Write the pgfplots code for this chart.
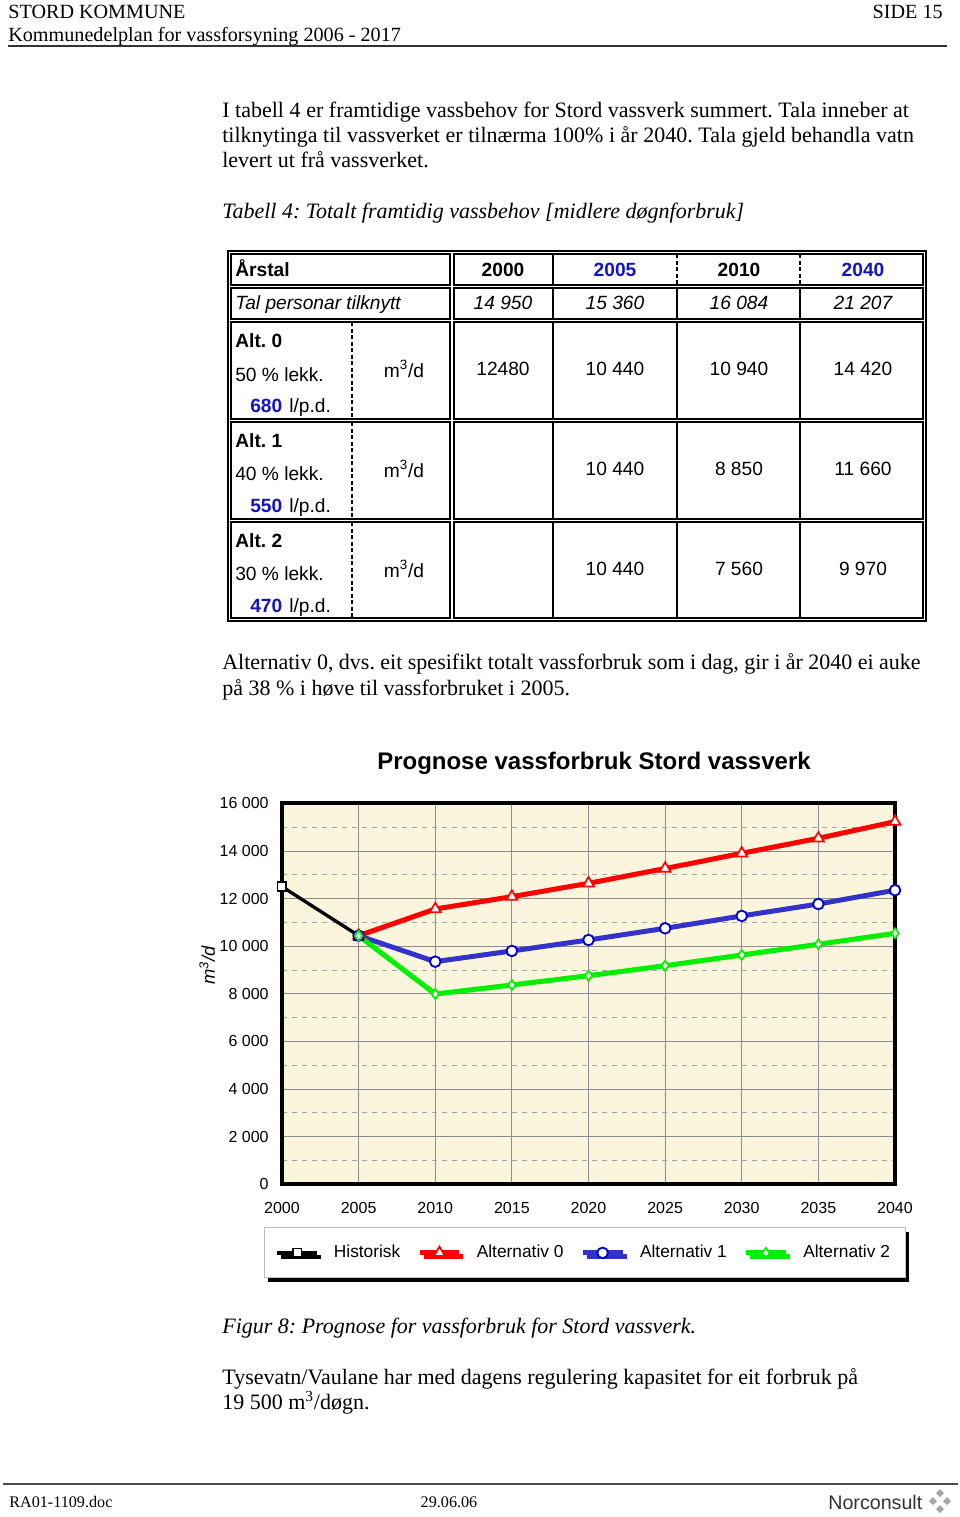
\documentclass[border=0pt]{standalone}
\usepackage{pgfplots}
\pgfplotsset{compat=1.18}
\usepackage{fontspec}
\setmainfont{Liberation Serif}
\setsansfont{Liberation Sans}
\usetikzlibrary{shadows}
\definecolor{cream}{RGB}{252,245,221}
\definecolor{tblue}{RGB}{20,20,190}
\definecolor{altblue}{RGB}{51,51,204}
\definecolor{markblue}{RGB}{0,0,200}
\definecolor{altgreen}{RGB}{0,240,0}
\definecolor{altred}{RGB}{255,0,0}
\newcommand{\bodyfont}{\fontsize{13.2}{15}\selectfont}
\newcommand{\tabfont}{\sffamily\fontsize{11.5}{13}\selectfont}
\frenchspacing
\begin{document}
\begin{tikzpicture}
\begin{scope}[x=0.6pt,y=-0.6pt]
\useasboundingbox[fill=white] (0,0) rectangle (960,1517);
% ---------- header ----------
\begin{scope}[every node/.style={inner sep=0,font=\fontsize{12.1}{14}\selectfont}]
\node[anchor=base west] at (8,18) {STORD KOMMUNE};
\node[anchor=base east] at (943,18) {SIDE 15};
\node[anchor=base west] at (8,41) {Kommunedelplan for vassforsyning 2006 - 2017};
\end{scope}
\draw[line width=1.2pt, black!80] (8,46) -- (947,46);
% ---------- body text ----------
\begin{scope}[every node/.style={inner sep=0,anchor=base west,font=\bodyfont}]
\node at (222,117) {\makebox[412pt][s]{I tabell 4 er framtidige vassbehov for Stord vassverk summert. Tala inneber at}};
\node at (222,142) {\makebox[415pt][s]{tilknytinga til vassverket er tilnærma 100\% i år 2040. Tala gjeld behandla vatn}};
\node at (222,167) {levert ut frå vassverket.};
\node at (222,218) {\itshape Tabell 4: Totalt framtidig vassbehov [midlere døgnforbruk]};
\node at (222,669) {\makebox[419pt][s]{Alternativ 0, dvs. eit spesifikt totalt vassforbruk som i dag, gir i år 2040 ei auke}};
\node at (222,695) {på 38 \% i høve til vassforbruket i 2005.};
\node at (222,1333) {\itshape Figur 8: Prognose for vassforbruk for Stord vassverk.};
\node at (222,1384) {Tysevatn/Vaulane har med dagens regulering kapasitet for eit forbruk på};
\node at (222,1409) {19 500 m\textsuperscript{3}/døgn.};
\end{scope}
% ---------- table ----------
\begin{scope}[line width=0.9pt]
\draw[line width=1.4pt] (228,251) rectangle (926,621);
\foreach \a/\b in {254/285,288/319,322/419,422/519,522/618}{
  \draw (231,\a) rectangle (450,\b);
  \draw (454,\a) rectangle (923,\b);
}
\draw (553,254) -- (553,285);
\draw[dash pattern=on 2.4pt off 1.5pt] (677,254) -- (677,285);
\draw[dash pattern=on 2.4pt off 1.5pt] (800,254) -- (800,285);
\foreach \a/\b in {288/319,322/419,422/519,522/618}{
  \draw (553,\a) -- (553,\b);
  \draw (677,\a) -- (677,\b);
  \draw (800,\a) -- (800,\b);
}
\foreach \a/\b in {322/419,422/519,522/618}{
  \draw[dash pattern=on 2.4pt off 1.5pt] (352,\a) -- (352,\b);
}
\end{scope}
\begin{scope}[every node/.style={inner sep=0,font=\tabfont}]
% row 1
\node[anchor=base west] at (235,276) {\bfseries Årstal};
\node[anchor=base] at (503,276) {\bfseries 2000};
\node[anchor=base] at (615,276) {\bfseries\color{tblue}2005};
\node[anchor=base] at (739,276) {\bfseries 2010};
\node[anchor=base] at (863,276) {\bfseries\color{tblue}2040};
% row 2
\node[anchor=base west] at (235,309) {\itshape Tal personar tilknytt};
\node[anchor=base] at (503,309) {\itshape 14 950};
\node[anchor=base] at (615,309) {\itshape 15 360};
\node[anchor=base] at (739,309) {\itshape 16 084};
\node[anchor=base] at (863,309) {\itshape 21 207};
% row 3
\node[anchor=base west] at (235,347) {\bfseries Alt. 0};
\node[anchor=base west] at (235,381) {50 \% lekk.};
\node[anchor=base west] at (250,412) {\bfseries\color{tblue}680};
\node[anchor=base west] at (289,412) {l/p.d.};
\node[anchor=base] at (404,377) {m\textsuperscript{3}/d};
\node[anchor=base] at (503,375) {12480};
\node[anchor=base] at (615,375) {10 440};
\node[anchor=base] at (739,375) {10 940};
\node[anchor=base] at (863,375) {14 420};
% row 4
\node[anchor=base west] at (235,447) {\bfseries Alt. 1};
\node[anchor=base west] at (235,480) {40 \% lekk.};
\node[anchor=base west] at (250,512) {\bfseries\color{tblue}550};
\node[anchor=base west] at (289,512) {l/p.d.};
\node[anchor=base] at (404,477) {m\textsuperscript{3}/d};
\node[anchor=base] at (615,475) {10 440};
\node[anchor=base] at (739,475) {8 850};
\node[anchor=base] at (863,475) {11 660};
% row 5
\node[anchor=base west] at (235,547) {\bfseries Alt. 2};
\node[anchor=base west] at (235,580) {30 \% lekk.};
\node[anchor=base west] at (250,612) {\bfseries\color{tblue}470};
\node[anchor=base west] at (289,612) {l/p.d.};
\node[anchor=base] at (404,577) {m\textsuperscript{3}/d};
\node[anchor=base] at (615,575) {10 440};
\node[anchor=base] at (739,575) {7 560};
\node[anchor=base] at (863,575) {9 970};
\end{scope}
% ---------- chart title ----------
\node[anchor=base,inner sep=0,font=\sffamily\bfseries\fontsize{14.4}{16}\selectfont] at (594,769) {Prognose vassforbruk Stord vassverk};
% ---------- footer ----------
\draw[line width=1.2pt, black!70] (3,1484) -- (958,1484);
\begin{scope}[every node/.style={inner sep=0,font=\fontsize{9.7}{11}\selectfont}]
\node[anchor=base west] at (9,1507) {RA01-1109.doc};
\node[anchor=base] at (449,1507) {29.06.06};
\end{scope}
\node[anchor=base west,inner sep=0,text=black!80,font=\sffamily\fontsize{11.8}{13}\selectfont] at (828,1509) {Norconsult};
\foreach \cx/\cy in {940/1493,933/1501,947/1501,940/1509}{
  \fill[black!35] (\cx,\cy-4) -- (\cx+4,\cy) -- (\cx,\cy+4) -- (\cx-4,\cy) -- cycle;
}
\end{scope}
% ---------- chart ----------
\begin{axis}[
  at={(169.2pt,-710.58pt)}, anchor=south west,
  scale only axis, width=367.8pt, height=228.6pt,
  xmin=2000, xmax=2040, ymin=0, ymax=16000,
  scaled y ticks=false, scaled x ticks=false,
  xtick={2000,2005,2010,2015,2020,2025,2030,2035,2040},
  xticklabels={2000,2005,2010,2015,2020,2025,2030,2035,2040},
  ytick={0,2000,4000,6000,8000,10000,12000,14000,16000},
  yticklabels={0,2 000,4 000,6 000,8 000,10 000,12 000,14 000,16 000},
  minor ytick={1000,3000,5000,7000,9000,11000,13000,15000},
  xmajorgrids, ymajorgrids, yminorgrids,
  major grid style={draw=black!45, line width=0.45pt},
  minor grid style={draw=black!35, dash pattern=on 3pt off 3pt, line width=0.45pt},
  axis line style={line width=2.3pt},
  major tick length=0pt, minor tick length=0pt,
  axis background/.style={fill=cream},
  ticklabel style={font=\sffamily\fontsize{9.6}{11}\selectfont},
  yticklabel style={xshift=-4.5pt},
  xticklabel style={yshift=-7pt},
  ylabel={m\textsuperscript{3}/d},
  ylabel style={font=\sffamily\itshape\fontsize{11}{13}\selectfont, at={(axis description cs:-0.122,0.575)}, anchor=center},
  legend columns=4,
  legend style={at={(axis description cs:0.4935,-0.18)}, anchor=center,
    draw=black!25, fill=white, line width=0.5pt,
    font=\sffamily\fontsize{10.4}{12}\selectfont,
    inner xsep=7pt, inner ysep=8.5pt,
    drop shadow={shadow xshift=2.4pt, shadow yshift=-2.4pt, fill=black, opacity=1},
    /tikz/every even column/.append style={column sep=8pt},
    /tikz/every odd column/.append style={column sep=7pt}},
  legend image code/.code={\draw[mark repeat=2,mark phase=2,#1] plot coordinates {(0cm,0cm) (0.42cm,0cm) (0.84cm,0cm)};},
  clip=false,
]
\addplot[black, line width=2pt, mark=square*, mark size=2.6pt, mark options={fill=white, draw=black, line width=1pt}]
  coordinates {(2000,12500) (2005,10440)};
\addlegendentry{Historisk}
\addplot[altred, line width=3pt, mark=triangle*, mark size=3.8pt, mark options={fill=white, draw=altred, line width=1pt}]
  coordinates {(2005,10440) (2010,11560) (2015,12080) (2020,12640) (2025,13260) (2030,13900) (2035,14530) (2040,15230)};
\addlegendentry{Alternativ 0}
\addplot[altblue, line width=3pt, mark=*, mark size=3.2pt, mark options={fill=white, draw=markblue, line width=1.1pt}]
  coordinates {(2005,10440) (2010,9350) (2015,9800) (2020,10260) (2025,10750) (2030,11270) (2035,11770) (2040,12350)};
\addlegendentry{Alternativ 1}
\addplot[altgreen, line width=3pt, mark=diamond*, mark size=3pt, mark options={fill=white, draw=altgreen, line width=1pt}]
  coordinates {(2005,10440) (2010,7990) (2015,8370) (2020,8760) (2025,9180) (2030,9630) (2035,10080) (2040,10540)};
\addlegendentry{Alternativ 2}
\end{axis}
\end{tikzpicture}
\end{document}
